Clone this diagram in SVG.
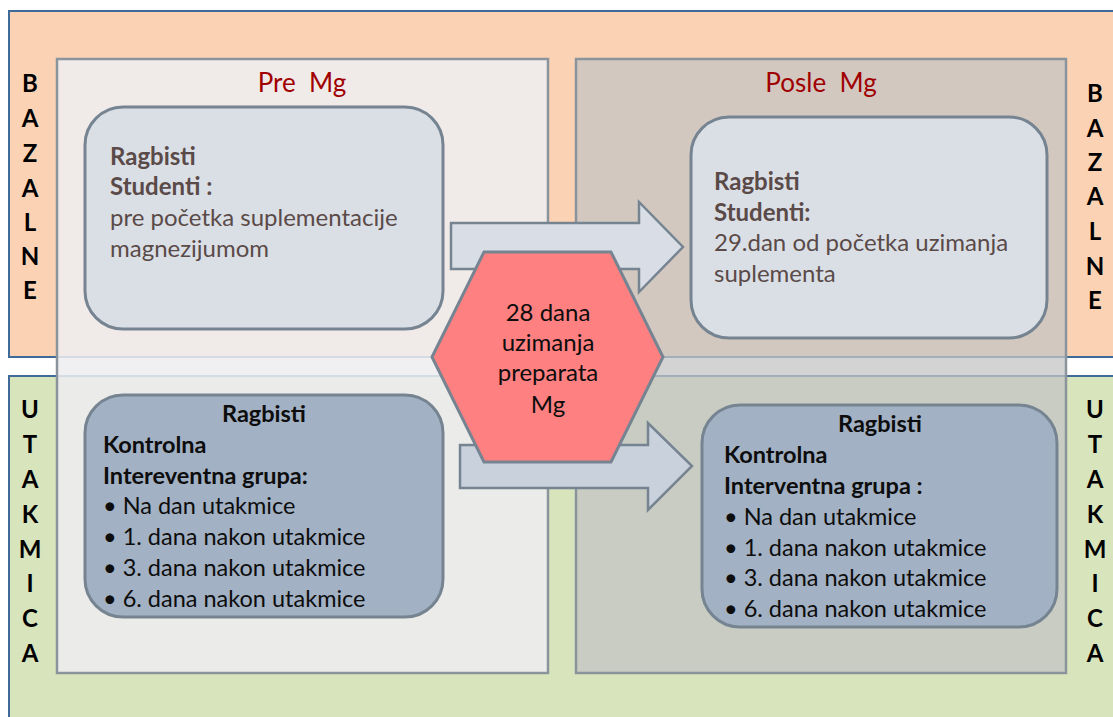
<svg xmlns="http://www.w3.org/2000/svg" width="1113" height="717" viewBox="0 0 1113 717">
<style>
text{font-family:Lato,"Open Sans","Liberation Sans",sans-serif;}
.side{font-size:24px;font-weight:bold;fill:#000;text-anchor:middle;}
.title{font-size:26px;fill:#a00000;text-anchor:middle;}
.tb{font-size:24px;fill:#5a4a48;}
.bb{font-size:23.5px;fill:#0d0d0d;}
.hx{font-size:24px;fill:#0d0d0d;text-anchor:middle;}
.b{font-weight:bold;}
.mid{text-anchor:middle;}
.zone{stroke:#3f6b98;stroke-width:2;}
.panel{stroke:#8a949c;stroke-width:2.5;}
.box{stroke:#768492;stroke-width:3;}
.arrow{stroke:#768492;stroke-width:2.5;stroke-linejoin:miter;}
</style>
<rect width="1113" height="717" fill="#ffffff"/>
<g id="zone-bazalne">
<rect class="zone" x="9" y="11" width="1120" height="346" fill="#fbd3b4"/>
</g>
<g id="zone-utakmica">
<rect class="zone" x="9" y="376" width="1120" height="360" fill="#d8e4bc"/>
</g>
<g id="labels-left">
<text class="side" x="30" y="92">B</text>
<text class="side" x="30" y="127">A</text>
<text class="side" x="30" y="162">Z</text>
<text class="side" x="30" y="197">A</text>
<text class="side" x="30" y="231">L</text>
<text class="side" x="30" y="265">N</text>
<text class="side" x="30" y="299">E</text>
<text class="side" x="30" y="418">U</text>
<text class="side" x="30" y="453">T</text>
<text class="side" x="30" y="488">A</text>
<text class="side" x="30" y="523">K</text>
<text class="side" x="30" y="558">M</text>
<text class="side" x="30" y="592">I</text>
<text class="side" x="30" y="627">C</text>
<text class="side" x="30" y="662">A</text>
</g>
<g id="labels-right">
<text class="side" x="1095" y="102">B</text>
<text class="side" x="1095" y="137">A</text>
<text class="side" x="1095" y="171">Z</text>
<text class="side" x="1095" y="205">A</text>
<text class="side" x="1095" y="240">L</text>
<text class="side" x="1095" y="275">N</text>
<text class="side" x="1095" y="309">E</text>
<text class="side" x="1095" y="418">U</text>
<text class="side" x="1095" y="453">T</text>
<text class="side" x="1095" y="488">A</text>
<text class="side" x="1095" y="523">K</text>
<text class="side" x="1095" y="558">M</text>
<text class="side" x="1095" y="592">I</text>
<text class="side" x="1095" y="627">C</text>
<text class="side" x="1095" y="662">A</text>
</g>
<g id="panel-pre">
<rect class="panel" x="57" y="59" width="491" height="614" fill="#ededf0" fill-opacity="0.86"/>
<text class="title" x="302" y="92" xml:space="preserve">Pre  Mg</text>
</g>
<g id="panel-posle">
<rect class="panel" x="576" y="59" width="490" height="614" fill="#c4c4c4" fill-opacity="0.75"/>
<text class="title" x="821" y="92" xml:space="preserve">Posle  Mg</text>
</g>
<g id="box-pre-bazalne">
<rect class="box" x="85" y="107" width="358" height="222" rx="38" fill="#dadfe6"/>
<text class="tb b" x="110" y="165">Ragbisti</text>
<text class="tb b" x="110" y="195">Studenti :</text>
<text class="tb" x="110" y="226">pre početka suplementacije</text>
<text class="tb" x="110" y="257">magnezijumom</text>
</g>
<g id="box-posle-bazalne">
<rect class="box" x="691" y="117" width="356" height="221" rx="38" fill="#dadfe6"/>
<text class="tb b" x="714" y="190">Ragbisti</text>
<text class="tb b" x="714" y="221">Studenti:</text>
<text class="tb" x="714" y="251">29.dan od početka uzimanja</text>
<text class="tb" x="714" y="282">suplementa</text>
</g>
<g id="box-pre-utakmica">
<rect class="box" x="85" y="395" width="358" height="222" rx="38" fill="#a2b1c3"/>
<text class="bb b mid" x="264" y="422">Ragbisti</text>
<text class="bb b" x="103" y="453">Kontrolna</text>
<text class="bb b" x="103" y="484">Intereventna grupa:</text>
<text class="bb" x="103" y="514">• Na dan utakmice</text>
<text class="bb" x="103" y="545">• 1. dana nakon utakmice</text>
<text class="bb" x="103" y="576">• 3. dana nakon utakmice</text>
<text class="bb" x="103" y="607">• 6. dana nakon utakmice</text>
</g>
<g id="box-posle-utakmica">
<rect class="box" x="702" y="405" width="355" height="222" rx="38" fill="#a2b1c3"/>
<text class="bb b mid" x="880" y="432">Ragbisti</text>
<text class="bb b" x="724" y="463">Kontrolna</text>
<text class="bb b" x="724" y="494">Interventna grupa :</text>
<text class="bb" x="724" y="525">• Na dan utakmice</text>
<text class="bb" x="724" y="556">• 1. dana nakon utakmice</text>
<text class="bb" x="724" y="586">• 3. dana nakon utakmice</text>
<text class="bb" x="724" y="617">• 6. dana nakon utakmice</text>
</g>
<g id="connectors">
<polygon class="arrow" points="451,223 639,223 639,202 683,247 639,292 639,269 451,269" fill="#d9dee6"/>
<polygon class="arrow" points="460,445 648,445 648,423 692,466 648,510 648,488 460,488" fill="#c8d1dc"/>
</g>
<g id="hexagon">
<polygon points="484,252 611,252 663,357 611,462 484,462 432,357" fill="#ff8080" stroke="#768492" stroke-width="3"/>
<text class="hx" x="548" y="321">28 dana</text>
<text class="hx" x="548" y="351">uzimanja</text>
<text class="hx" x="548" y="381">preparata</text>
<text class="hx" x="548" y="413">Mg</text>
</g>
</svg>
